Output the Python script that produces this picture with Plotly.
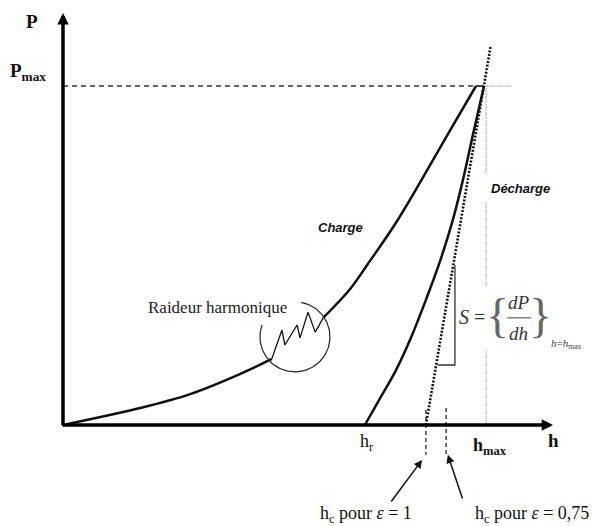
import numpy as np
import plotly.graph_objects as go

# indentation curve, units: h / h_max and P / P_max
h_load = [0.0, 0.183, 0.302, 0.420, 0.496]
p_load = [0.0, 0.050, 0.091, 0.150, 0.195]
h_load2 = [0.618, 0.682, 0.724, 0.789, 0.853, 0.917, 0.981]
p_load2 = [0.316, 0.401, 0.475, 0.593, 0.726, 0.864, 1.0]
# serrations inside the circle (harmonic stiffness)
h_serr = [0.496, 0.520, 0.527, 0.556, 0.563, 0.582, 0.599, 0.618]
p_serr = [0.195, 0.280, 0.236, 0.295, 0.257, 0.333, 0.274, 0.316]
h_unload = [0.717, 0.751, 0.791, 0.829, 0.862, 0.895, 0.926, 0.950, 0.974, 1.0]
p_unload = [0.0, 0.074, 0.162, 0.265, 0.369, 0.481, 0.605, 0.723, 0.858, 1.0]

h_max, p_max = 1.0, 1.0
h_r = 0.717
h_c1 = 0.862
h_c075 = 0.910
# tangent S at h_max
h_tan = [h_c1, 1.0155]
p_tan = [0.0, 1.115]

# pixel mapping: 421 px per h unit, 339 px per P unit
x_range = [-63 / 421, 538 / 421]
y_range = [-101 / 339, 425 / 339]

BLACK = "#111111"
SERIF = "Liberation Serif"
SANS = "Liberation Sans"

fig = go.Figure()


def line(x, y, width=2.5, dash=None, color=BLACK, shape="linear"):
    fig.add_trace(go.Scatter(x=x, y=y, mode="lines", hoverinfo="skip",
                             line=dict(color=color, width=width, dash=dash, shape=shape)))


# Pmax dashed + thin dotted
line([0, 0.983], [p_max, p_max], width=1.4, dash="5px,4px", color="#333")
line([0.983, 1.066], [p_max, p_max], width=1, dash="1px,1px", color="#888")
# hmax vertical thin dotted (with gaps for labels)
for a, b in [(1.0, 0.743), (0.655, 0.407), (0.221, 0.0)]:
    line([h_max + 0.005, h_max + 0.005], [a, b], width=1, dash="1px,1px", color="#888")

# tangent
line(h_tan, p_tan, width=2.6, dash="2px,1.6px")
# hc dashed
line([h_c1, h_c1], [0.044, -0.088], width=1.4, dash="4px,3px", color="#333")
line([h_c075, h_c075], [0.05, -0.086], width=1.4, dash="4px,3px", color="#333")

# curves
line(h_load, p_load, shape="spline")
line(h_serr, p_serr, width=1.3)
line(h_load2, p_load2, shape="spline")
line([h_load2[-1], h_max], [p_max, p_max], width=1.5)
line(h_unload, p_unload, shape="spline")

# slope triangle
line([0.931, 0.931, 0.89], [0.472, 0.177, 0.177], width=1.3, color="#333")

# circle with gap at upper-left
cx, cy, r_px = 0.551, 0.260, 35
t = np.radians(np.linspace(160, 440, 120))
line(cx + r_px / 421 * np.cos(t), cy + r_px / 339 * np.sin(t), width=1.2, color="#222")

# fraction bar
line([1.055, 1.112], [0.316, 0.316], width=1, color="#444")

ann = []
# axes with arrows
ann.append(dict(x=0, y=1.215, ax=0, ay=-0.005, xref="x", yref="y", axref="x", ayref="y",
                showarrow=True, arrowhead=2, arrowsize=0.65, arrowwidth=3.5, arrowcolor="black", text=""))
ann.append(dict(x=1.164, y=0, ax=-0.005, ay=0, xref="x", yref="y", axref="x", ayref="y",
                showarrow=True, arrowhead=2, arrowsize=0.65, arrowwidth=3.5, arrowcolor="black", text=""))
# hc arrows
ann.append(dict(x=0.853, y=-0.103, ax=0.777, ay=-0.230, xref="x", yref="y", axref="x", ayref="y",
                showarrow=True, arrowhead=2, arrowsize=1.1, arrowwidth=1.5, arrowcolor="#111", text=""))
ann.append(dict(x=0.914, y=-0.088, ax=0.950, ay=-0.221, xref="x", yref="y", axref="x", ayref="y",
                showarrow=True, arrowhead=2, arrowsize=1.1, arrowwidth=1.5, arrowcolor="#111", text=""))


def label(x, y, text, size=17, family=SERIF, color=BLACK, pad=1):
    ann.append(dict(x=x, y=y, text=text, showarrow=False, xref="x", yref="y", borderpad=pad,
                    font=dict(size=size, family=family, color=color)))


label(-0.074, 1.189, "<b>P</b>", 19)
label(-0.083, 1.041, "<b>P<sub>max</sub></b>", 19)
label(0.658, 0.584, "<b><i>Charge</i></b>", 13, SANS)
label(1.086, 0.699, "<b><i>Décharge</i></b>", 13, SANS)
label(0.368, 0.348, "Raideur harmonique", 17, color="#222")
label(0.722, -0.053, "h<sub>r</sub>", 18)
label(1.014, -0.062, "<b>h<sub>max</sub></b>", 18)
label(1.164, -0.047, "<b>h</b>", 19)
label(0.720, -0.265, "h<sub>c</sub> pour <i>ε</i> = 1", 18)
label(1.114, -0.263, "h<sub>c</sub> pour <i>ε</i> = 0,75", 18)
# S formula
label(0.972, 0.319, "<i>S</i> =", 20, color="#333", pad=0)
label(1.031, 0.322, "{", 48, color="#666", pad=0)
label(1.083, 0.360, "<i>dP</i>", 19, color="#333", pad=0)
label(1.083, 0.271, "<i>dh</i>", 19, color="#333", pad=0)
label(1.135, 0.322, "}", 48, color="#666", pad=0)
label(1.195, 0.238, "<i>h</i>=<i>h</i><sub>max</sub>", 11, color="#444", pad=0)

fig.update_layout(
    width=601, height=526, margin=dict(l=0, r=0, t=0, b=0),
    paper_bgcolor="white", plot_bgcolor="white", showlegend=False,
    xaxis=dict(range=x_range, visible=False, fixedrange=True),
    yaxis=dict(range=y_range, visible=False, fixedrange=True),
    annotations=ann,
)

fig.write_html("out.html", post_script="document.body.style.margin='0';",
               config={"displayModeBar": False})
